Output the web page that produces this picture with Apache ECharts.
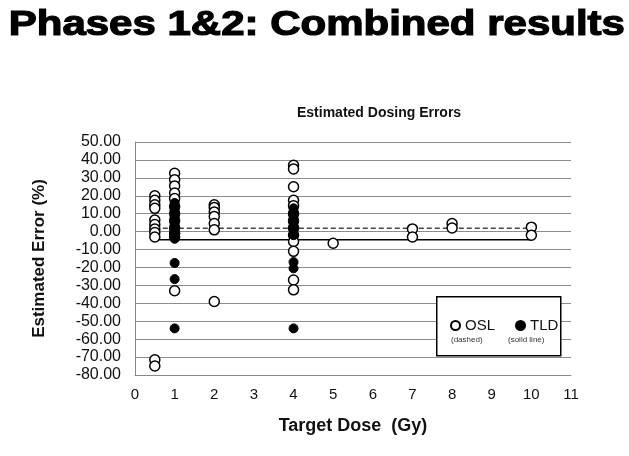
<!DOCTYPE html>
<html>
<head>
<meta charset="utf-8">
<script src="https://cdn.jsdelivr.net/npm/echarts@6/dist/echarts.min.js"></script>
<style>html,body{margin:0;padding:0;background:#fff;}#c{width:629px;height:456px;}</style>
</head>
<body>
<div id="c"></div>
<script>
var pageTitle = 'Phases 1&2: Combined results';
var chartTitle = 'Estimated Dosing Errors';
var xName = 'Target Dose  (Gy)';
var yName = 'Estimated Error (%)';
var oslPoints = [
  [0.5,20],[0.5,17.5],[0.5,15],[0.5,13],[0.5,6.5],[0.5,4],[0.5,1.5],[0.5,-0.5],[0.5,-3],[0.5,-71.5],[0.5,-75],
  [1,32.5],[1,29],[1,25.5],[1,21.5],[1,18.5],[1,14],[1,10],[1,6],[1,2],[1,-1],[1,-3],[1,-33],
  [2,15],[2,13.5],[2,11],[2,8.5],[2,4.5],[2,1],[2,-39],
  [4,37],[4,35],[4,25],[4,17.5],[4,14.5],[4,10],[4,6],[4,2],[4,-2],[4,-5.5],[4,-11],[4,-27],[4,-32.5],
  [5,-6.5],
  [7,1.5],[7,-3],
  [8,4.5],[8,2],
  [10,2.5],[10,-2]
];
var tldPoints = [
  [1,16],[1,14],[1,12],[1,10],[1,8],[1,6],[1,4],[1,2],[1,0],[1,-2],[1,-4],[1,-17.5],[1,-26.5],[1,-54],
  [4,13],[4,11],[4,9],[4,7],[4,5],[4,3],[4,1],[4,-1],[4,-2],[4,-17],[4,-20.5],[4,-54]
];
var oslMeanLine = [[0.5,1.9],[10,1.9]];
var tldMeanLine = [[0.5,-4.5],[10,-4.5]];
var legendNotes = ['(dashed)', '(solid line)'];

var chart = echarts.init(document.getElementById('c'), null, {renderer:'canvas'});
var font = 'Liberation Sans, Arial, sans-serif';
chart.setOption({
  animation: false,
  backgroundColor: '#fff',
  grid: {left: 135, right: 58, top: 142, bottom: 81},
  xAxis: {
    type: 'value', min: 0, max: 11, interval: 1,
    name: xName, nameLocation: 'middle', nameGap: 42,
    nameTextStyle: {fontFamily: font, fontWeight: 'bold', fontSize: 18, color: '#111'},
    axisLine: {show: true, onZero: false, lineStyle: {color: '#888', width: 1}},
    axisTick: {show: false},
    splitLine: {show: false},
    axisLabel: {fontFamily: font, fontSize: 15, color: '#111', margin: 12}
  },
  yAxis: {
    type: 'value', min: -80, max: 50, interval: 10,
    name: yName, nameLocation: 'middle', nameGap: 87, nameRotate: 90,
    nameTextStyle: {fontFamily: font, fontWeight: 'bold', fontSize: 17, color: '#111'},
    axisLine: {show: true, lineStyle: {color: '#888', width: 1}},
    axisTick: {show: false},
    splitLine: {show: true, lineStyle: {color: '#8c8c8c', width: 1}},
    axisLabel: {fontFamily: font, fontSize: 16, color: '#111', margin: 14,
      formatter: function(v){ return v.toFixed(2); }}
  },
  legend: {
    data: ['OSL','TLD'], left: 450, top: 318, padding: 0, itemGap: 20, itemWidth: 9, itemHeight: 9,
    z: 20, zlevel: 0,
    textStyle: {fontFamily: font, fontSize: 15, color: '#111'}
  },
  graphic: [
    {type: 'text', left: 8, top: 7, scaleX: 1.2, style: {text: pageTitle, font: 'bold 35px ' + font, fill: '#000', stroke: '#000', lineWidth: 1.2}},
    {type: 'text', left: 297, top: 106, style: {text: chartTitle, font: 'bold 14px ' + font, fill: '#111'}},
    {type: 'rect', left: 436, top: 296, shape: {width: 124, height: 59}, style: {fill: '#fff', stroke: '#000', lineWidth: 1.5}, z: 5},
    {type: 'text', left: 451, top: 336, style: {text: legendNotes[0], font: '8px ' + font, fill: '#333'}, z: 6},
    {type: 'text', left: 508, top: 336, style: {text: legendNotes[1], font: '8px ' + font, fill: '#333'}, z: 6}
  ],
  series: [
    {name: 'OSL mean', type: 'line', data: oslMeanLine, symbol: 'none', silent: true,
      lineStyle: {color: '#444', width: 1.5, type: [5,3]}, z: 1},
    {name: 'TLD mean', type: 'line', data: tldMeanLine, symbol: 'none', silent: true,
      lineStyle: {color: '#000', width: 1.5}, z: 1},
    {name: 'OSL', type: 'scatter', data: oslPoints, symbol: 'circle', symbolSize: 10,
      itemStyle: {color: '#fff', borderColor: '#000', borderWidth: 1.5, opacity: 1}, z: 3},
    {name: 'TLD', type: 'scatter', data: tldPoints, symbol: 'circle', symbolSize: 9,
      itemStyle: {color: '#000', borderColor: '#000', borderWidth: 1, opacity: 1}, z: 4}
  ]
});
</script>
</body>
</html>
